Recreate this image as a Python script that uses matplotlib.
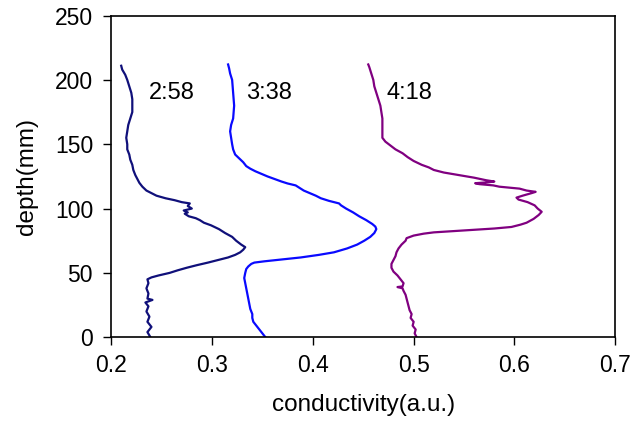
import matplotlib
matplotlib.use("Agg")
from matplotlib import pyplot as plt

plt.rcParams['font.family'] = ['Liberation Sans', 'DejaVu Sans']

# depth (mm) and conductivity (a.u.), one pair of lists per profile
depth_258 = [0, 4, 8, 12, 16, 20, 24, 27, 29, 30, 34, 38, 42, 45, 46.5, 48, 50, 52, 54, 56,
             58, 60, 62, 64, 66, 68, 70, 72, 75, 78, 81, 84, 87, 89, 91, 92.5, 94, 96, 97,
             98.5, 100, 102, 104, 105, 106.5, 108, 110, 112, 114, 117, 120, 123, 126, 130,
             134, 138, 142, 146, 150, 155, 160, 165, 170, 175, 180, 185, 190, 195, 200, 204,
             208, 211]
cond_258 = [0.239, 0.236, 0.240, 0.236, 0.238, 0.235, 0.237, 0.234, 0.241, 0.236, 0.237,
            0.235, 0.237, 0.236, 0.240, 0.247, 0.258, 0.266, 0.275, 0.285, 0.296, 0.306,
            0.316, 0.323, 0.328, 0.331, 0.333, 0.329, 0.324, 0.320, 0.313, 0.307, 0.299,
            0.292, 0.288, 0.284, 0.277, 0.273, 0.276, 0.272, 0.280, 0.276, 0.278, 0.270,
            0.263, 0.254, 0.245, 0.240, 0.235, 0.231, 0.228, 0.226, 0.224, 0.222, 0.221,
            0.219, 0.218, 0.216, 0.216, 0.215, 0.216, 0.217, 0.219, 0.221, 0.221, 0.221,
            0.220, 0.218, 0.216, 0.214, 0.211, 0.210]

depth_338 = [0, 3, 6, 9, 12, 15, 18, 22, 26, 30, 34, 38, 42, 46, 50, 53, 55, 57, 58, 59, 60,
             61, 62, 64, 66, 69, 72, 75, 78, 81, 84, 86, 88, 91, 94, 97, 100, 102.5, 104,
             106, 108, 110, 112, 114, 116, 118, 119.5, 121, 123, 125, 127, 129, 131, 133,
             136, 139, 142, 146, 150, 155, 160, 165, 170, 180, 190, 200, 205, 209, 212]
cond_338 = [0.353, 0.350, 0.347, 0.344, 0.341, 0.340, 0.340, 0.338, 0.337, 0.336, 0.335,
            0.334, 0.333, 0.332, 0.333, 0.334, 0.336, 0.339, 0.342, 0.352, 0.364, 0.376,
            0.388, 0.406, 0.421, 0.434, 0.444, 0.451, 0.457, 0.461, 0.463, 0.462, 0.459,
            0.453, 0.446, 0.440, 0.433, 0.428, 0.426, 0.416, 0.408, 0.403, 0.397, 0.391,
            0.387, 0.383, 0.375, 0.369, 0.362, 0.355, 0.349, 0.343, 0.338, 0.334, 0.331,
            0.327, 0.323, 0.321, 0.320, 0.319, 0.318, 0.319, 0.321, 0.322, 0.321, 0.320,
            0.318, 0.317, 0.316]

depth_418 = [0, 3, 6, 9, 12, 15, 18, 21, 24, 27, 30, 33, 36, 38, 39, 39.5, 42, 45, 48, 51,
             54, 57, 60, 63, 66, 69, 72, 75, 77, 79, 80.5, 81.5, 82.5, 83.5, 84.5, 85.7,
             87.5, 89, 92, 95, 97.5, 100, 102.5, 105, 107, 108.5, 110, 112, 113, 114,
             115.5, 117, 118, 119, 119.7, 120.5, 121, 122, 124, 126, 128, 130, 132, 134,
             137, 140, 143, 146, 149, 152, 155, 160, 165, 170, 175, 180, 185, 190, 195,
             200, 205, 210, 212]
cond_418 = [0.503, 0.501, 0.502, 0.499, 0.500, 0.497, 0.498, 0.496, 0.495, 0.494, 0.493,
            0.492, 0.490, 0.489, 0.484, 0.489, 0.490, 0.487, 0.484, 0.480, 0.478, 0.478,
            0.480, 0.482, 0.483, 0.485, 0.488, 0.492, 0.493, 0.500, 0.510, 0.520, 0.540,
            0.560, 0.580, 0.597, 0.606, 0.612, 0.619, 0.624, 0.627, 0.623, 0.620, 0.613,
            0.604, 0.602, 0.608, 0.617, 0.621, 0.612, 0.605, 0.585, 0.579, 0.565, 0.561,
            0.575, 0.580, 0.572, 0.560, 0.545, 0.530, 0.520, 0.515, 0.508, 0.500, 0.494,
            0.489, 0.482, 0.477, 0.472, 0.469, 0.469, 0.469, 0.469, 0.468, 0.467, 0.465,
            0.463, 0.461, 0.460, 0.458, 0.456, 0.455]

labels = ['2:58', '3:38', '4:18']
label_x = [0.237, 0.3336, 0.4735]
label_y = 190
colors = ['#10107a', '#0a0aff', '#800080']

fig = plt.figure(figsize=(6.35, 4.21), dpi=100)
ax = fig.add_axes([0.175, 0.199, 0.794, 0.764])

profiles = [(cond_258, depth_258), (cond_338, depth_338), (cond_418, depth_418)]
for (c, d), col in zip(profiles, colors):
    ax.plot(c, d, color=col, linewidth=1.6)

for lab, lx in zip(labels, label_x):
    ax.text(lx, label_y, lab, fontsize=17, ha='left', va='center')

ax.set_xlim(0.2, 0.7)
ax.set_ylim(0, 250)
ax.set_xticks([0.2, 0.3, 0.4, 0.5, 0.6, 0.7])
ax.set_yticks([0, 50, 100, 150, 200, 250])
ax.set_xticklabels(['0.2', '0.3', '0.4', '0.5', '0.6', '0.7'])
ax.tick_params(direction='out', length=6, width=1, labelsize=16.5)
ax.tick_params(axis='x', pad=6)
ax.tick_params(axis='y', pad=7)
for s in ax.spines.values():
    s.set_linewidth(1.2)

ax.set_xlabel('conductivity(a.u.)', fontsize=17.5, labelpad=12)
ax.set_ylabel('depth(mm)', fontsize=17.5, labelpad=12)

fig.savefig('out.png', dpi=100)
